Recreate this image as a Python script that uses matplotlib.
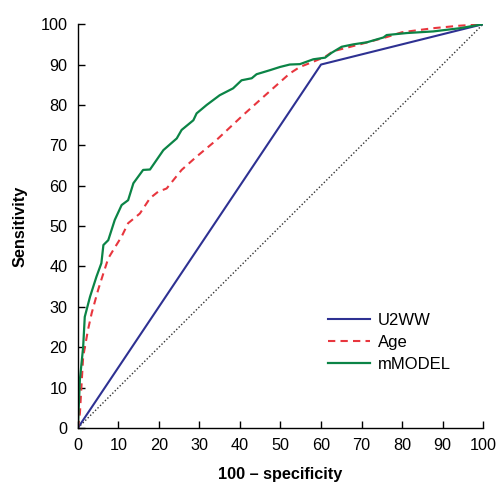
import matplotlib
matplotlib.use("Agg")
import matplotlib.pyplot as plt

plt.rcParams['font.family'] = ['Liberation Sans', 'DejaVu Sans']

# U2WW referral criteria (single cut point)
u2ww_x = [0, 60, 100]
u2ww_y = [0, 90, 100]

# age only
age_x = [0, 0.5, 1.3, 2.5, 3.4, 5.0, 6.3, 7.5, 8.7, 10.8, 12.4, 15.3, 17.8, 19.8, 21.9,
         25.6, 29.3, 34.2, 40.8, 45.8, 52.3, 54.8, 58.1, 61.0, 63.0, 69.6, 76.2, 80.0,
         87.7, 94.0, 100]
age_y = [0, 3.6, 17.6, 24.3, 28.4, 34.2, 38.3, 42.0, 44.0, 47.4, 50.7, 53.1, 56.9, 58.5, 59.3,
         63.9, 67.2, 71.3, 77.5, 82.0, 87.8, 89.4, 90.7, 91.9, 93.3, 95.0, 96.8, 98.0,
         99.0, 99.6, 100]

# mMODEL
mm_x = [0, 0.5, 1.3, 1.7, 3.0, 4.6, 5.8, 6.3, 7.5, 8.3, 9.1, 10.8, 12.4, 13.7, 16.1, 17.8,
        21.1, 24.4, 25.6, 28.5, 29.3, 31.8, 35.0, 38.3, 40.4, 42.9, 44.1, 47.4, 49.9, 52.3,
        54.8, 58.1, 61.0, 62.6, 65.1, 68.0, 71.3, 75.4, 76.2, 81.2, 87.7, 94.3, 100]
mm_y = [0, 12.0, 20.0, 27.5, 32.5, 37.5, 40.8, 45.3, 46.5, 49.0, 51.5, 55.2, 56.4, 60.6, 63.9, 64.0,
        68.8, 71.7, 73.8, 76.2, 77.9, 80.0, 82.4, 84.1, 86.1, 86.6, 87.6, 88.6, 89.4, 90.0,
        90.1, 91.3, 91.7, 92.9, 94.4, 95.0, 95.5, 96.7, 97.3, 97.8, 98.2, 99.0, 100]

ticks = [0, 10, 20, 30, 40, 50, 60, 70, 80, 90, 100]

fig = plt.figure(figsize=(4.96, 4.83), dpi=100)
ax = fig.add_axes([0.157, 0.114, 0.817, 0.836])

ax.plot([0, 100], [0, 100], color='#333333', lw=1.0, ls=(0, (1, 1.5)))
ax.plot(u2ww_x, u2ww_y, color='#2e3192', lw=1.5, label='U2WW')
ax.plot(age_x, age_y, color='#e8363e', lw=1.5, ls=(0, (3.5, 2.5)), label='Age')
ax.plot(mm_x, mm_y, color='#0b8446', lw=1.6, label='mMODEL')

ax.set_xlim(0, 100)
ax.set_ylim(0, 100)
ax.set_xticks(ticks)
ax.set_yticks(ticks)
ax.tick_params(direction='in', length=5, width=1, labelsize=11.7, pad=7.5)
for s in ['top', 'right']:
    ax.spines[s].set_visible(False)
for s in ['left', 'bottom']:
    ax.spines[s].set_linewidth(1.0)

ax.set_xlabel('100 \u2013 specificity', fontsize=11.7, fontweight='bold', labelpad=10)
ax.set_ylabel('Sensitivity', fontsize=11.7, fontweight='bold', labelpad=9)

ax.legend(loc='upper left', bbox_to_anchor=(0.58, 0.323), frameon=False, fontsize=12,
          handlelength=2.5, labelspacing=0.43, handletextpad=0.48)

fig.savefig('out.png', dpi=100)
